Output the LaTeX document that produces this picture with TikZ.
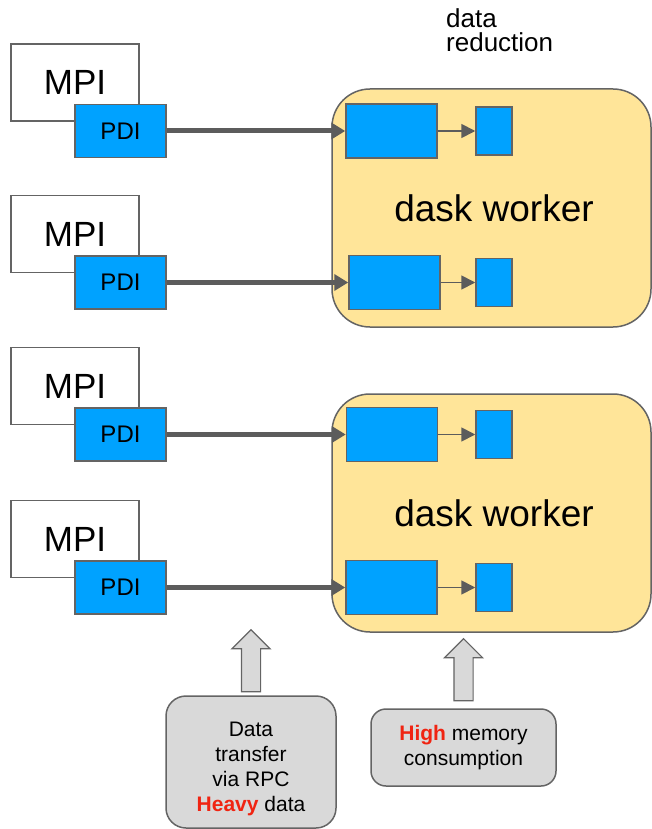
\documentclass[tikz,border=0pt]{standalone}
\usepackage{fontspec}
\setmainfont{Liberation Sans}
\usepackage{xcolor}
\usetikzlibrary{positioning,arrows.meta,shapes.arrows}

\definecolor{pdiblue}{RGB}{0,162,255}
\definecolor{workeryellow}{RGB}{255,229,153}
\definecolor{boxgray}{RGB}{217,217,217}
\definecolor{edgegray}{RGB}{100,100,100}
\definecolor{flowgray}{RGB}{92,92,92}
\definecolor{alertred}{RGB}{240,36,18}

\begin{document}
\begin{tikzpicture}[x=1pt,y=-1pt,
    mpi/.style={draw=edgegray,line width=1.5pt,fill=white,minimum width=128pt,minimum height=77pt,inner sep=0pt,font=\fontsize{35}{40}\selectfont},
    pdi/.style={draw=edgegray,line width=1.5pt,fill=pdiblue,minimum width=91pt,minimum height=53pt,inner sep=0pt,font=\fontsize{24}{28}\selectfont},
    chunk/.style={draw=edgegray,line width=1.5pt,fill=pdiblue,minimum width=91pt,minimum height=54pt,inner sep=0pt},
    reduced/.style={draw=edgegray,line width=1.5pt,fill=pdiblue,minimum width=36pt,minimum height=48pt,inner sep=0pt},
    worker/.style={draw=edgegray,line width=1.5pt,fill=workeryellow,rounded corners=38pt,minimum width=319pt,minimum height=238pt,inner sep=0pt,font=\fontsize{37}{40}\selectfont},
    note/.style={draw=edgegray,line width=1.5pt,fill=boxgray,align=center,inner sep=0pt,font=\fontsize{21}{25}\selectfont},
    bigarrow/.style={single arrow,draw=edgegray,line width=1.2pt,fill=boxgray,shape border rotate=90,inner sep=9pt,single arrow head extend=9.5pt,minimum height=62pt},
    transfer/.style={flowgray,line width=5pt,-{Triangle[length=14pt,width=16pt]}},
    reduce/.style={flowgray,line width=1.8pt,-{Triangle[length=14pt,width=14pt]}}]
  \useasboundingbox (0,0) rectangle (652,829);

  % dask workers
  \node[worker] (worker1) at (491.5,208) {\hspace*{5pt}dask worker};
  \node[worker] (worker2) at (491.5,513) {\hspace*{5pt}dask worker};
  \node[anchor=north west,align=left,inner sep=0pt,font=\fontsize{26}{24}\selectfont] (reduction) at (446,8) {data\\reduction};

  % MPI processes with PDI, one chunk each
  \foreach \i/\y/\cx in {1/131/391.5,2/282.5/394.5,3/434.5/392,4/587.5/391.5}{
    \node[mpi] (mpi\i) at (75,\y-48.5) {MPI};
    \node[pdi] (pdi\i) at (120.5,\y) {PDI};
    \node[chunk] (chunk\i) at (\cx,\y) {};
    \node[reduced] (red\i) at (494,\y) {};
    \draw[transfer] (pdi\i.east) -- (chunk\i.west);
    \draw[reduce] (chunk\i.east) -- (red\i.west);
  }

  % Notes
  \node[note,rounded corners=20pt,minimum width=170pt,minimum height=132pt] (rpc) at (251,762)
    {\rule{0pt}{29pt}Data\\transfer\\via RPC\\{\bfseries\color{alertred}Heavy} data};
  \node[note,rounded corners=15pt,minimum width=185pt,minimum height=77pt] (memory) at (463.5,747.5)
    {{\bfseries\color{alertred}High} memory\\consumption};
  \node[bigarrow,anchor=tail,yshift=3pt] (uprpc) at (rpc.north) {};
  \node[bigarrow,anchor=tail,yshift=7pt] (upmem) at (memory.north) {};
\end{tikzpicture}
\end{document}
